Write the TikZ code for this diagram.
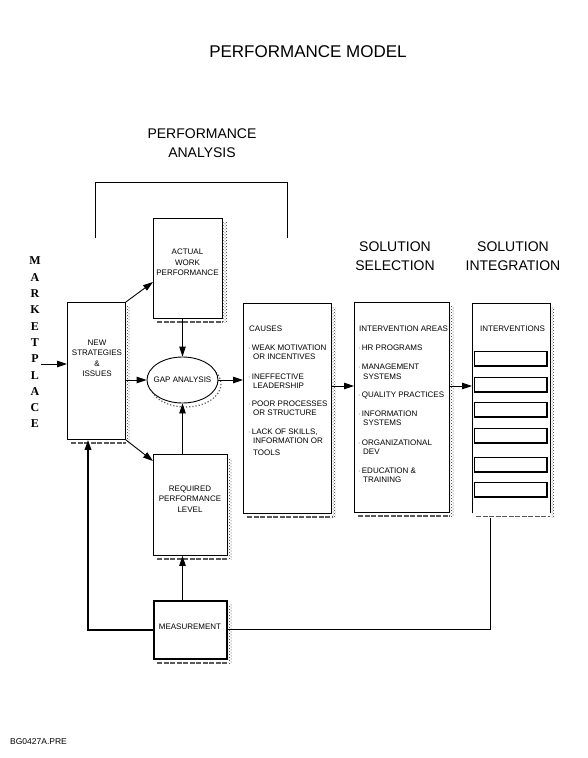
\documentclass[tikz,border=0pt]{standalone}
\usepackage{fontspec}
\setmainfont{Liberation Sans}
\newfontfamily\mkfont{Liberation Serif}
\usetikzlibrary{arrows.meta,calc,patterns,shapes.geometric}
\newcommand\shd[1]{%
  \fill[pattern=crosshatch dots, pattern color=black!80] ($(#1.north east)+(0.5,4)$) rectangle ($(#1.south east)+(4,4)$);
  \draw[black!65, line width=1.5pt, dash pattern=on 5pt off 1.5pt] ($(#1.south west)+(4,3)$) -- ($(#1.south east)+(0,3)$);
}
\begin{document}
\begin{tikzpicture}[x=1pt,y=-1pt,
  box/.style={draw, line width=0.9pt, fill=white, inner sep=0pt, anchor=north west},
  txt/.style={font=\fontsize{8}{10.5}\selectfont, align=center, inner sep=0pt},
  ltxt/.style={font=\fontsize{8}{9.5}\selectfont, anchor=west, inner sep=0pt},
  head/.style={font=\fontsize{14}{19}\selectfont, align=center, inner sep=0pt},
  arr/.style={line width=0.9pt, -{Triangle[length=10pt,width=6.5pt]}},
  tarr/.style={line width=1.8pt, -{Triangle[length=10pt,width=6.5pt]}},
  ln/.style={line width=0.9pt},
  ibox/.style={draw, line width=0.9pt, inner sep=0pt, anchor=north west, minimum width=72pt, minimum height=14pt}
]
\useasboundingbox (0,0) rectangle (588,758);

% titles
\node[font=\fontsize{17}{20}\selectfont, inner sep=0pt] (title) at (308,52) {PERFORMANCE MODEL};
\node[head] (pa) at (202,143) {PERFORMANCE\\ANALYSIS};
\node[head] (ss) at (395,256) {SOLUTION\\SELECTION};
\node[head] (si) at (513,256) {SOLUTION\\INTEGRATION};
\node[font=\fontsize{8.5}{10}\selectfont, anchor=west, inner sep=0pt] (code) at (10,742) {BG0427A.PRE};

% bracket
\coordinate (b1) at (95,238);
\coordinate (b2) at (287,238);
\draw[ln] (b1) -- ++(0,-56) -| (b2);

% MARKETPLACE
\foreach \l [count=\i] in {M,A,R,K,E,T,P,L,A,C,E}
  \node[font=\mkfont\bfseries\fontsize{12}{12}\selectfont, inner sep=0pt] (mk\i) at (35,{261+16.3*(\i-1)}) {\l};

% boxes
\node[box, minimum width=58pt, minimum height=137pt] (ns) at (67,302) {};
\node[box, minimum width=69pt, minimum height=100pt] (act) at (153,218) {};
\node[box, minimum width=74pt, minimum height=101pt] (req) at (153,454) {};
\node[box, line width=1.8pt, minimum width=73pt, minimum height=58pt] (meas) at (153,600) {};
\node[box, minimum width=88pt, minimum height=210pt] (cau) at (243,303) {};
\node[box, minimum width=95pt, minimum height=210pt] (sel) at (354,302) {};
\node[inner sep=0pt, anchor=north west, minimum width=78pt, minimum height=210pt] (int) at (472,303) {};
\draw[line width=0.9pt] (int.south west) -- (int.north west) -- (int.north east) -- (int.south east);

\shd{ns}\shd{act}\shd{req}\shd{meas}\shd{cau}\shd{sel}\shd{int}

% gap analysis ellipse
\draw[black!65, line width=1.2pt, dotted] (185.5,384) ellipse [x radius=35.5, y radius=23];
\node[ellipse, draw, line width=0.9pt, fill=white, minimum width=71pt, minimum height=46pt, inner sep=0pt] (gap) at (182.5,380) {};
\node[txt] (gapt) at (gap.center) {GAP ANALYSIS};

% box texts
\node[txt] (nst) at (97,358.5) {NEW\\STRATEGIES\\\&\\ISSUES};
\node[txt] (actt) at (187.5,262.5) {ACTUAL\\WORK\\PERFORMANCE};
\node[txt] (reqt) at (190,499) {REQUIRED\\PERFORMANCE\\LEVEL};
\node[txt] (meast) at (190,627) {MEASUREMENT};

\node[ltxt] (c0) at (249,329) {CAUSES};
\node[ltxt] (c1) at (248,348) {$\cdot$\,WEAK MOTIVATION};
\node[ltxt] (c2) at (253,357) {OR INCENTIVES};
\node[ltxt] (c3) at (248,377) {$\cdot$\,INEFFECTIVE};
\node[ltxt] (c4) at (253,386) {LEADERSHIP};
\node[ltxt] (c5) at (248,404) {$\cdot$\,POOR PROCESSES};
\node[ltxt] (c6) at (253,413) {OR STRUCTURE};
\node[ltxt] (c7) at (248,432) {$\cdot$\,LACK OF SKILLS,};
\node[ltxt] (c8) at (253,441) {INFORMATION OR};
\node[ltxt] (c9) at (253,453) {TOOLS};

\node[ltxt] (s0) at (359,329) {INTERVENTION AREAS};
\node[ltxt] (s1) at (358,348) {$\cdot$\,HR PROGRAMS};
\node[ltxt] (s2) at (358,367) {$\cdot$\,MANAGEMENT};
\node[ltxt] (s3) at (363,377) {SYSTEMS};
\node[ltxt] (s4) at (358,395) {$\cdot$\,QUALITY PRACTICES};
\node[ltxt] (s5) at (358,414) {$\cdot$\,INFORMATION};
\node[ltxt] (s6) at (363,423) {SYSTEMS};
\node[ltxt] (s7) at (358,443) {$\cdot$\,ORGANIZATIONAL};
\node[ltxt] (s8) at (363,452) {DEV};
\node[ltxt] (s9) at (358,471) {$\cdot$\,EDUCATION \&};
\node[ltxt] (s10) at (363,480) {TRAINING};

\node[txt] (it) at (512.5,329) {INTERVENTIONS};
\foreach \t [count=\i] in {351,377,402,428,457,482} {
  \node[ibox] (ib\i) at (474,\t) {};
  \draw[line width=1.8pt] (ib\i.north east) -- (ib\i.south east) -- (ib\i.south west);
}

% connectors
\coordinate (mkt) at (41,364);
\draw[arr] (mkt) -- (ns.west |- mkt);
\draw[arr] (ns.north east) -- ($(act.north west)+(0,64)$);
\draw[arr] (ns.south east) -- ($(req.north west)+(0,7)$);
\draw[arr] (ns.east |- gap) -- (gap.west);
\draw[arr] (gap.north |- act.south) -- (gap.north);
\draw[arr] (gap.south |- req.north) -- (gap.south);
\draw[arr] (gap.east) -- (cau.west |- gap.east);
\coordinate (ya) at (0,386);
\draw[arr] (cau.east |- ya) -- (sel.west |- ya);
\draw[arr] (sel.east |- ya) -- (int.west |- ya);
\draw[arr] (gap |- meas.north) -- (gap |- req.south);
\draw[tarr] (meas.west) -| ($(ns.south west)+(21,0)$);
\draw[ln] ($(int.south west)+(18,5)$) |- (meas.east);
\end{tikzpicture}
\end{document}
